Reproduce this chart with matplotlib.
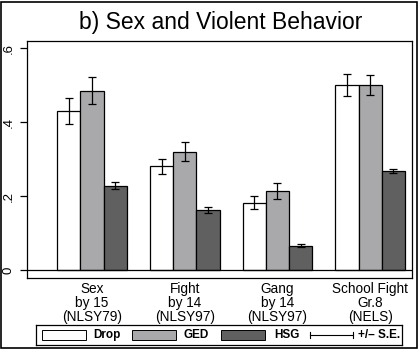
import matplotlib
matplotlib.use("Agg")
import matplotlib.pyplot as plt
from matplotlib.patches import Rectangle
import numpy as np

plt.rcParams['font.family'] = ['Liberation Sans', 'DejaVu Sans']

categories = ["Sex\nby 15\n(NLSY79)", "Fight\nby 14\n(NLSY97)", "Gang\nby 14\n(NLSY97)", "School Fight\nGr.8\n(NELS)"]
series = ["Drop", "GED", "HSG"]
drop = [0.43, 0.28, 0.182, 0.50]
ged = [0.485, 0.32, 0.213, 0.50]
hsg = [0.228, 0.162, 0.066, 0.268]
drop_se = [0.035, 0.021, 0.017, 0.030]
ged_se = [0.036, 0.025, 0.022, 0.027]
hsg_se = [0.010, 0.007, 0.004, 0.006]
yticks = [0, 0.2, 0.4, 0.6]
yticklabels = ["0", ".2", ".4", ".6"]

colors = ["white", "#a9a9ab", "#606060"]
values = [drop, ged, hsg]
ses = [drop_se, ged_se, hsg_se]

fig = plt.figure(figsize=(4.19, 3.49), dpi=100)
fig.patch.set_facecolor("white")
ax = fig.add_axes([27/419, 1-278/349, 385/419, 237/349])

x = np.arange(len(categories))
w = 0.25
for i, (vals, err, c) in enumerate(zip(values, ses, colors)):
    pos = x + (i - 1) * w
    ax.bar(pos, vals, width=w, color=c, edgecolor="black", linewidth=0.9, zorder=2)
    ax.errorbar(pos, vals, yerr=err, fmt="none", ecolor="black", elinewidth=0.9,
                capsize=2.6, capthick=0.9, zorder=3)

ax.axhline(0, color="black", linewidth=0.9, zorder=4)
ax.set_xlim(-0.70, 3.45)
ax.set_ylim(-0.0216, 0.619)
ax.set_yticks(yticks)
ax.set_yticklabels(yticklabels, rotation=90, va="center", fontsize=9.5)
ax.tick_params(axis="y", length=5, width=0.9, pad=4)
ax.set_xticks(x)
ax.set_xticklabels(categories, fontsize=9.8, linespacing=0.98)
ax.tick_params(axis="x", length=0, pad=3)
for s in ax.spines.values():
    s.set_linewidth(0.9)

fig.text(221/419, 1-22/349, "b) Sex and Violent Behavior", ha="center", va="center", fontsize=16.5)

# legend
lax = fig.add_axes([36/419, 1-345/349, 366/419, 20/349])
lax.set_xlim(0, 366)
lax.set_ylim(0, 20)
lax.set_xticks([])
lax.set_yticks([])
for s in lax.spines.values():
    s.set_linewidth(0.9)
patch_x = [6, 96, 185]
text_x = [57, 147, 238]
for px, tx, c, lab in zip(patch_x, text_x, colors, series):
    lax.add_patch(Rectangle((px, 5), 44, 10, facecolor=c, edgecolor="black", linewidth=0.7))
    lax.text(tx, 10, lab, fontsize=8.5, fontweight="bold", va="center", ha="left")
lax.plot([274, 317], [10, 10], color="black", linewidth=0.8)
lax.plot([274, 274], [7, 13], color="black", linewidth=0.8)
lax.plot([317, 317], [7, 13], color="black", linewidth=0.8)
lax.text(322, 10, "+/\u2013 S.E.", fontsize=8.5, fontweight="bold", va="center", ha="left")

# outer frame
fig.add_artist(Rectangle((1/419, 1/349), 416/419, 346/349, transform=fig.transFigure,
                         fill=False, edgecolor="black", linewidth=1.2))

fig.savefig("out.png", dpi=100)
